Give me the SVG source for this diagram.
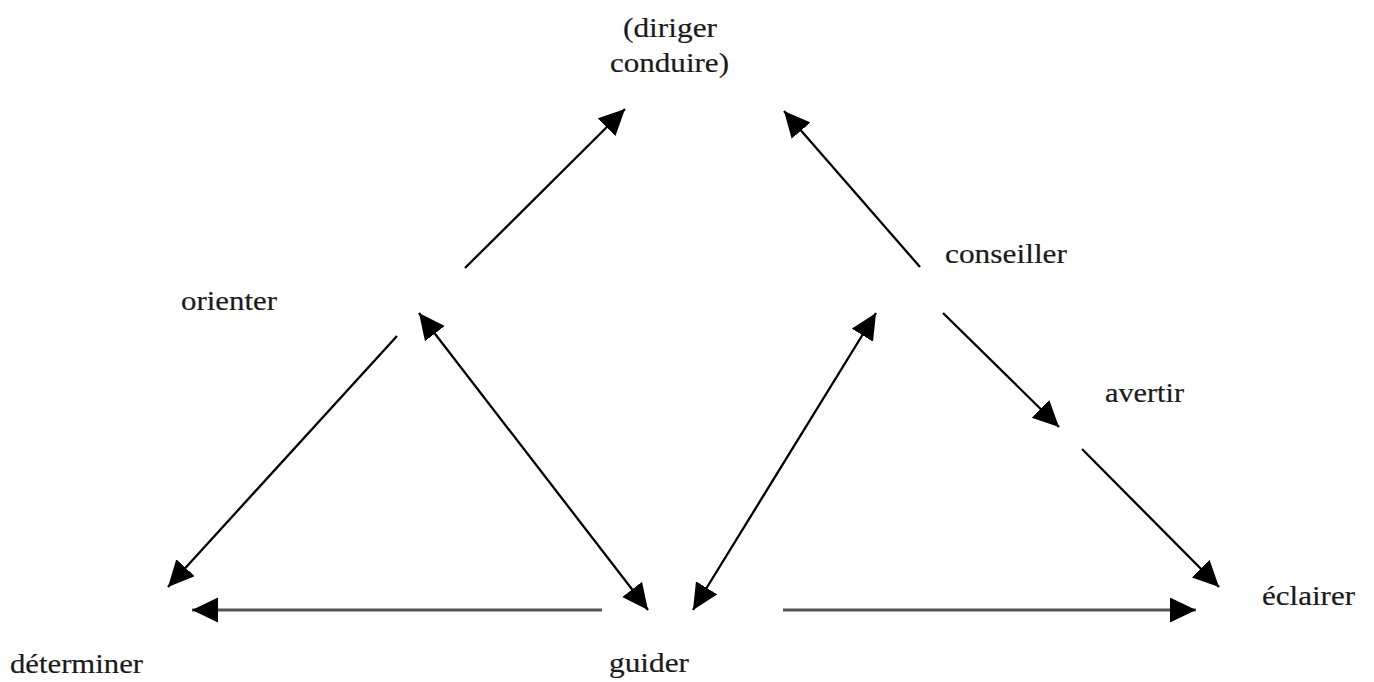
<svg xmlns="http://www.w3.org/2000/svg" width="1374" height="682" viewBox="0 0 1374 682">
<style>
.lbl{font-family:"Liberation Serif","Times New Roman",serif;font-size:28px;fill:#1a1a1a;stroke:#1a1a1a;stroke-width:0.2}
.c{fill:none;stroke:#000;stroke-width:2.3}
.h{fill:none;stroke:#555;stroke-width:3}
</style>
<defs>
<marker id="ah" markerUnits="userSpaceOnUse" markerWidth="28" markerHeight="26" refX="26" refY="12.5" orient="auto-start-reverse">
<path d="M0,0 L26,12.5 L0,25 Z" fill="#000"/>
</marker>
</defs>
<rect width="1374" height="682" fill="#fff"/>
<g id="connectors">
<line class="c" x1="465" y1="268" x2="625" y2="109" marker-end="url(#ah)"/>
<line class="c" x1="920" y1="267" x2="784" y2="111" marker-end="url(#ah)"/>
<line class="c" x1="397" y1="336" x2="168" y2="587" marker-end="url(#ah)"/>
<line class="c" x1="419" y1="313" x2="648" y2="610" marker-start="url(#ah)" marker-end="url(#ah)"/>
<line class="h" x1="602" y1="610" x2="192" y2="610" marker-end="url(#ah)"/>
<line class="c" x1="876" y1="313" x2="693" y2="610" marker-start="url(#ah)" marker-end="url(#ah)"/>
<line class="c" x1="943" y1="313" x2="1059" y2="427" marker-end="url(#ah)"/>
<line class="c" x1="1082" y1="449" x2="1219" y2="587" marker-end="url(#ah)"/>
<line class="h" x1="783" y1="610" x2="1196" y2="610" marker-end="url(#ah)"/>
</g>
<g id="diriger">
<text class="lbl" x="623" y="37" textLength="94" lengthAdjust="spacingAndGlyphs">(diriger</text>
<text class="lbl" x="610" y="72" textLength="119" lengthAdjust="spacingAndGlyphs">conduire)</text>
</g>
<g id="orienter"><text class="lbl" x="181" y="310" textLength="96" lengthAdjust="spacingAndGlyphs">orienter</text></g>
<g id="conseiller"><text class="lbl" x="945" y="263" textLength="122" lengthAdjust="spacingAndGlyphs">conseiller</text></g>
<g id="avertir"><text class="lbl" x="1105" y="402" textLength="79" lengthAdjust="spacingAndGlyphs">avertir</text></g>
<g id="determiner"><text class="lbl" x="10" y="673" textLength="133" lengthAdjust="spacingAndGlyphs">déterminer</text></g>
<g id="guider"><text class="lbl" x="609" y="672" textLength="80" lengthAdjust="spacingAndGlyphs">guider</text></g>
<g id="eclairer"><text class="lbl" x="1262" y="605" textLength="93" lengthAdjust="spacingAndGlyphs">éclairer</text></g>
</svg>
